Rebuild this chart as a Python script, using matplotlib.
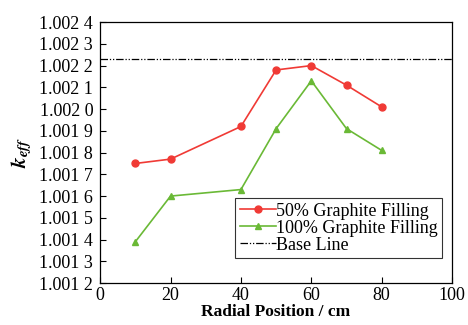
import matplotlib
matplotlib.use("Agg")
import matplotlib.pyplot as plt
from matplotlib.ticker import FuncFormatter, MultipleLocator

# data
radial_pos = [10, 20, 40, 50, 60, 70, 80]
keff_50 = [1.00175, 1.00177, 1.00192, 1.00218, 1.00220, 1.00211, 1.00201]
keff_100 = [1.00139, 1.00160, 1.00163, 1.00191, 1.00213, 1.00191, 1.00181]
base_line = 1.00223

plt.rcParams['font.family'] = 'Liberation Serif'
plt.rcParams['mathtext.fontset'] = 'stix'

fig = plt.figure(figsize=(4.68, 3.25), dpi=100)
ax = fig.add_axes([0.214, 0.129, 0.752, 0.803])

ax.plot(radial_pos, keff_50, '-o', color='#f03a35', ms=5, lw=1.2,
        label='50% Graphite Filling')
ax.plot(radial_pos, keff_100, '-^', color='#6ab936', ms=5, lw=1.2,
        label='100% Graphite Filling')
ax.axhline(base_line, color='black', ls=(0, (6, 1.5, 1, 1.5, 1, 1.5)), lw=0.9,
           label='Base Line')

ax.set_xlim(0, 100)
ax.set_ylim(1.0012, 1.0024)
ax.xaxis.set_major_locator(MultipleLocator(20))
ax.yaxis.set_major_locator(MultipleLocator(0.0001))

def fmt(v, pos):
    s = f"{v:.4f}"
    return s[:-1] + " " + s[-1]

ax.yaxis.set_major_formatter(FuncFormatter(fmt))
ax.tick_params(direction='in', labelsize=13, length=4, width=0.8, pad=3)
ax.tick_params(axis='y', pad=5)
for sp in ax.spines.values():
    sp.set_linewidth(0.9)

ax.set_xlabel('Radial Position / cm', weight='bold', fontsize=12.5, labelpad=0)
ax.set_ylabel(r'$\mathbfit{k}_{\mathbfit{eff}}$', fontsize=15, labelpad=4)

leg = ax.legend(loc='lower right', bbox_to_anchor=(0.972, 0.096), fontsize=13,
                frameon=True, fancybox=False, handlelength=2.0,
                handletextpad=0.0, labelspacing=0.0, borderpad=0.25,
                borderaxespad=0.0)
leg.get_frame().set_edgecolor('black')
leg.get_frame().set_linewidth(0.8)

fig.savefig('out.png', dpi=100)
